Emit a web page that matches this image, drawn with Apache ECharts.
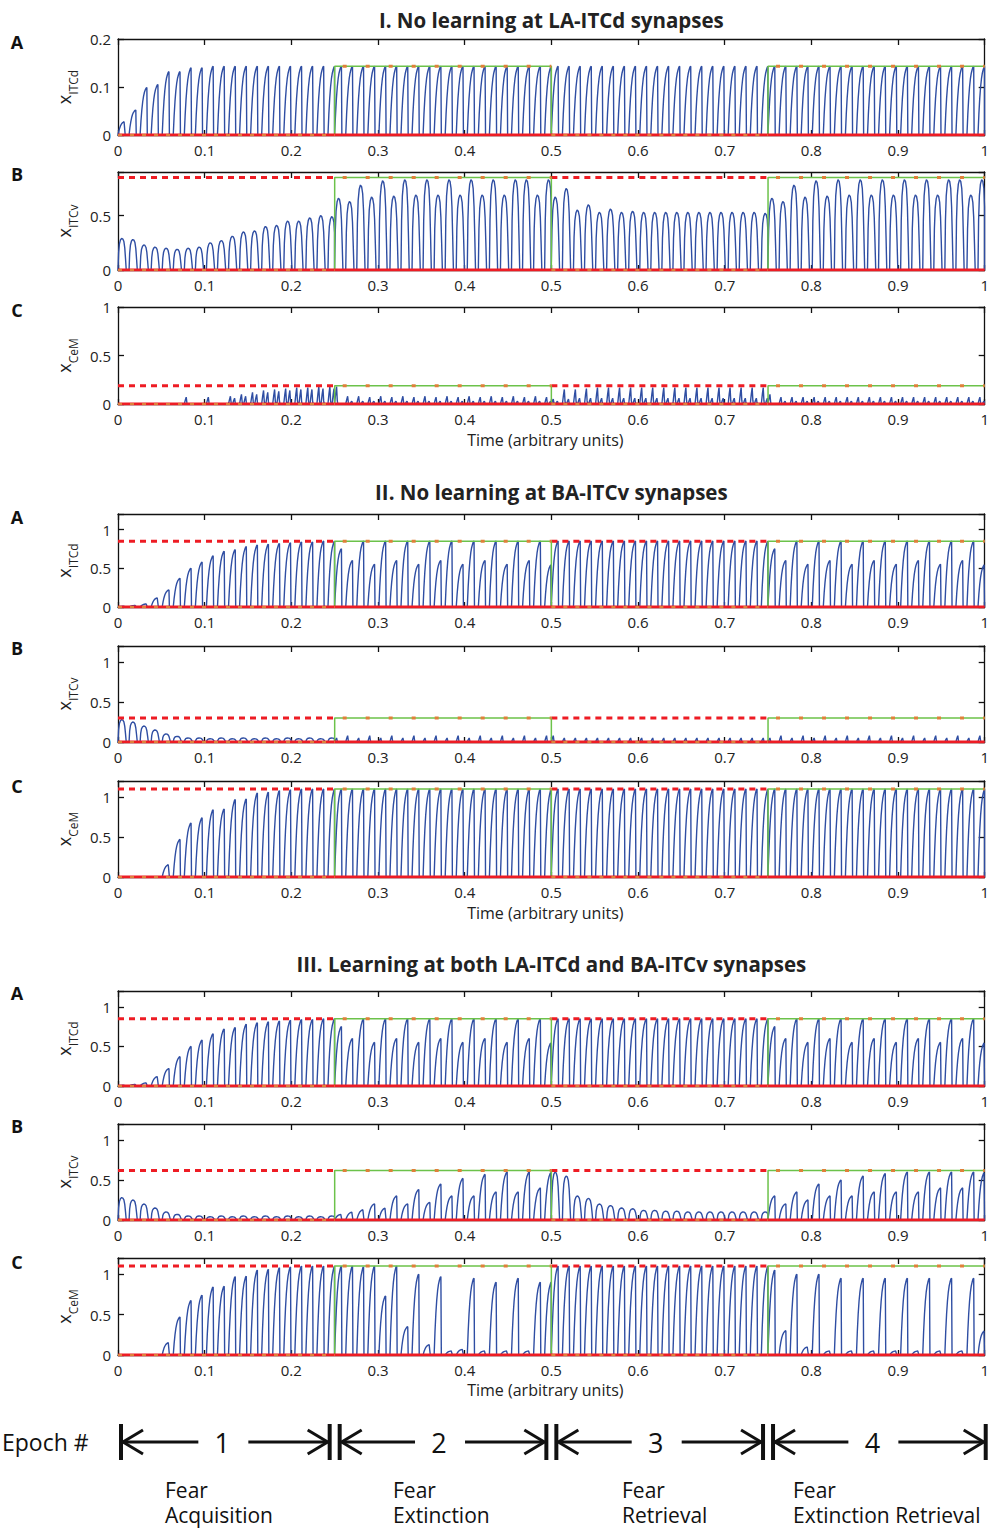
<!DOCTYPE html>
<html><head><meta charset="utf-8">
<script src="https://cdn.jsdelivr.net/npm/echarts@6/dist/echarts.min.js"></script>
<style>html,body{margin:0;padding:0;background:#fff}#c{width:992px;height:1531px}</style>
</head><body><div id="c"></div>
<script>
// ---------- data ----------
const xTickValues = [0,0.1,0.2,0.3,0.4,0.5,0.6,0.7,0.8,0.9,1];
const epochEdges = [0,0.25,0.5,0.75,1];
const epochNumbers = ['1','2','3','4'];
const epochLine1 = ['Fear','Fear','Fear','Fear'];
const epochLine2 = ['Acquisition','Extinction','Retrieval','Extinction Retrieval'];
const sectionTitles = ['I. No learning at LA-ITCd synapses','II. No learning at BA-ITCv synapses','III. Learning at both LA-ITCd and BA-ITCv synapses'];
const panelLetters = ['A','B','C'];
const yNames = ['ITCd','ITCv','CeM'];
const xTitle = 'Time (arbitrary units)';

// peak height of each of the 80 spikes (4 epochs x 20)
const IA_peaks = [0.028,0.052,0.099,0.105,0.132,0.132,0.14,0.14,0.143,0.143,0.143,0.143,0.143,0.143,0.143,0.143,0.143,0.143,0.143,0.143,
 0.143,0.143,0.143,0.143,0.143,0.143,0.143,0.143,0.143,0.143,0.143,0.143,0.143,0.143,0.143,0.143,0.143,0.143,0.143,0.143,
 0.143,0.143,0.143,0.143,0.143,0.143,0.143,0.143,0.143,0.143,0.143,0.143,0.143,0.143,0.143,0.143,0.143,0.143,0.143,0.143,
 0.143,0.143,0.143,0.143,0.143,0.143,0.143,0.143,0.143,0.143,0.143,0.143,0.143,0.143,0.143,0.143,0.143,0.143,0.143,0.143];
const IB_peaks = [0.29,0.28,0.23,0.21,0.2,0.19,0.2,0.21,0.25,0.27,0.31,0.35,0.36,0.4,0.41,0.45,0.45,0.48,0.5,0.49,
 0.66,0.63,0.78,0.67,0.82,0.68,0.83,0.69,0.83,0.69,0.83,0.69,0.83,0.69,0.83,0.69,0.83,0.83,0.69,0.83,
 0.67,0.75,0.55,0.6,0.53,0.56,0.53,0.54,0.53,0.53,0.53,0.53,0.53,0.53,0.53,0.53,0.53,0.53,0.53,0.52,
 0.66,0.63,0.78,0.67,0.82,0.68,0.83,0.69,0.83,0.69,0.83,0.69,0.83,0.69,0.83,0.69,0.83,0.83,0.69,0.83];
const IC_peaks = [0,0,0,0,0,0,0.07,0,0.07,0,0.08,0.1,0.12,0.14,0.15,0.16,0.17,0.17,0.18,0.18,
 0.18,0.08,0.08,0.07,0.08,0.07,0.08,0.07,0.08,0.07,0.08,0.07,0.08,0.07,0.08,0.07,0.08,0.07,0.08,0.07,
 0.05,0.15,0.15,0.16,0.17,0.17,0.17,0.17,0.17,0.17,0.17,0.17,0.17,0.17,0.17,0.17,0.17,0.17,0.17,0.17,
 0.1,0.07,0.07,0.07,0.07,0.07,0.07,0.07,0.07,0.07,0.07,0.07,0.07,0.07,0.07,0.07,0.07,0.07,0.07,0.07];
// second, smaller spike inside each period (panel I.C only)
const IC_second = [0,0,0,0,0,0,0,0,0,0,0.06,0.08,0.1,0.12,0.13,0.14,0.15,0.15,0.16,0.16,
 0,0.03,0.03,0.03,0.03,0.03,0.03,0.03,0.03,0.03,0.03,0.03,0.03,0.03,0.03,0.03,0.03,0.03,0.03,0.03,
 0.03,0.05,0.06,0.06,0.06,0.06,0.06,0.06,0.06,0.06,0.06,0.06,0.06,0.06,0.06,0.06,0.06,0.06,0.06,0.06,
 0,0.03,0.03,0.03,0.03,0.03,0.03,0.03,0.03,0.03,0.03,0.03,0.03,0.03,0.03,0.03,0.03,0.03,0.03,0.03];
const IIA_peaks = [0.01,0.02,0.04,0.12,0.22,0.37,0.5,0.58,0.66,0.72,0.74,0.78,0.8,0.81,0.82,0.83,0.84,0.84,0.85,0.85,
 0.75,0.6,0.85,0.55,0.85,0.6,0.85,0.55,0.85,0.6,0.85,0.55,0.85,0.6,0.85,0.55,0.85,0.6,0.85,0.55,
 0.85,0.85,0.85,0.85,0.85,0.85,0.85,0.85,0.85,0.85,0.85,0.85,0.85,0.85,0.85,0.85,0.85,0.85,0.85,0.85,
 0.75,0.6,0.85,0.55,0.85,0.6,0.85,0.55,0.85,0.6,0.85,0.55,0.85,0.6,0.85,0.55,0.85,0.6,0.85,0.55];
const IIB_peaks = [0.28,0.25,0.2,0.15,0.1,0.07,0.05,0.05,0.04,0.05,0.04,0.05,0.04,0.05,0.04,0.05,0.04,0.05,0.04,0.05,
 0.05,0.08,0.05,0.08,0.05,0.08,0.05,0.08,0.05,0.08,0.05,0.08,0.05,0.08,0.05,0.08,0.05,0.08,0.05,0.08,
 0.08,0.05,0.05,0.05,0.05,0.05,0.05,0.05,0.05,0.05,0.05,0.05,0.05,0.05,0.05,0.05,0.05,0.05,0.05,0.05,
 0.05,0.08,0.05,0.08,0.05,0.08,0.05,0.08,0.05,0.08,0.05,0.08,0.05,0.08,0.05,0.08,0.05,0.08,0.05,0.08];
const IIC_peaks = [0,0,0,0,0.155,0.47,0.675,0.74,0.84,0.85,0.97,0.975,1.05,1.06,1.08,1.09,1.1,1.1,1.1,1.1,
 1.1,1.1,1.1,1.1,1.1,1.1,1.1,1.1,1.1,1.1,1.1,1.1,1.1,1.1,1.1,1.1,1.1,1.1,1.1,1.1,
 1.1,1.1,1.1,1.1,1.1,1.1,1.1,1.1,1.1,1.1,1.1,1.1,1.1,1.1,1.1,1.1,1.1,1.1,1.1,1.1,
 1.1,1.1,1.1,1.1,1.1,1.1,1.1,1.1,1.1,1.1,1.1,1.1,1.1,1.1,1.1,1.1,1.1,1.1,1.1,1.1];
const IIIA_peaks = [0.01,0.02,0.04,0.12,0.22,0.37,0.5,0.58,0.66,0.72,0.74,0.78,0.8,0.81,0.82,0.83,0.84,0.84,0.85,0.85,
 0.75,0.6,0.85,0.55,0.85,0.6,0.85,0.55,0.85,0.6,0.85,0.55,0.85,0.6,0.85,0.55,0.85,0.6,0.85,0.55,
 0.85,0.85,0.85,0.85,0.85,0.85,0.85,0.85,0.85,0.85,0.85,0.85,0.85,0.85,0.85,0.85,0.85,0.85,0.85,0.85,
 0.75,0.6,0.85,0.55,0.85,0.6,0.85,0.55,0.85,0.6,0.85,0.55,0.85,0.6,0.85,0.55,0.85,0.6,0.85,0.55];
const IIIB_peaks = [0.28,0.25,0.2,0.15,0.1,0.07,0.05,0.05,0.04,0.05,0.04,0.05,0.04,0.05,0.04,0.05,0.04,0.05,0.04,0.05,
 0.07,0.1,0.13,0.2,0.15,0.3,0.2,0.38,0.22,0.45,0.3,0.52,0.3,0.57,0.35,0.6,0.35,0.6,0.4,0.6,
 0.6,0.55,0.3,0.27,0.2,0.18,0.15,0.14,0.12,0.12,0.11,0.11,0.1,0.1,0.1,0.1,0.1,0.1,0.1,0.1,
 0.3,0.2,0.35,0.25,0.45,0.3,0.5,0.3,0.55,0.35,0.58,0.35,0.6,0.35,0.6,0.4,0.6,0.4,0.6,0.6];
const IIIC_peaks = [0,0,0,0,0.155,0.47,0.675,0.74,0.84,0.85,0.97,0.975,1.05,1.06,1.08,1.09,1.1,1.1,1.1,1.1,
 1.1,1.1,1.09,1.1,0.73,1.1,0.35,1.0,0.13,0.97,0.05,0.07,0.95,0.05,0.9,0.05,0.95,0.05,0.9,0.9,
 1.1,1.1,1.1,1.1,1.1,1.1,1.1,1.1,1.1,1.1,1.1,1.1,1.1,1.1,1.1,1.1,1.1,1.1,1.1,1.1,
 1.05,0.3,1.0,0.1,1.0,0.05,0.95,0.05,0.95,0.05,0.95,0.05,0.95,0.05,0.95,0.05,0.95,0.05,0.95,0.3];

// stimulus (green) and threshold (red dashed) levels per panel
const greenLevels = [0.143,0.85,0.187, 0.85,0.3,1.1, 0.85,0.62,1.1];
const dashLevels  = [0.85,0.85,0.187, 0.85,0.3,1.1, 0.85,0.62,1.1];
const yMaxes = [0.2,0.9,1, 1.2,1.2,1.2, 1.2,1.2,1.2];
const yIntervals = [0.1,0.5,0.5, 0.5,0.5,0.5, 0.5,0.5,0.5];
const allPeaks = [IA_peaks,IB_peaks,IC_peaks,IIA_peaks,IIB_peaks,IIC_peaks,IIIA_peaks,IIIB_peaks,IIIC_peaks];
const allSecond = [null,null,IC_second,null,null,null,null,null,null];
// spike shape used in each epoch of each panel
const shapes = [['saw','saw','saw','saw'],['hump','hump','hump','hump'],['spike','spike','spike','spike'],
  ['saw','saw','saw','saw'],['hump','spike','spike','spike'],['saw','saw','saw','saw'],
  ['saw','saw','saw','saw'],['hump','saw','hump','saw'],['saw','saw','saw','saw']];

// ---------- layout ----------
const panelTops = [39,172,307, 514,646,781, 991,1124,1258];
const panelBottoms = [135,270,404, 607,742,877, 1086,1220,1355];
const titleY = [20,492,964];
const letterY = [[42,174,310],[517,648,786],[993,1126,1262]];
const xTitleY = [440,913,1390];
const FONT = '"Open Sans", "Noto Sans", sans-serif';

const templates = {
  saw:  [[0,0],[0.001,0.3],[0.002,0.53],[0.003,0.7],[0.004,0.82],[0.005,0.9],[0.006,0.95],[0.007,0.99],[0.0078,1],[0.0083,0]],
  hump: [[0,0],[0.0007,0.55],[0.0016,0.82],[0.0028,0.95],[0.0042,1],[0.0056,0.98],[0.0068,0.9],[0.0078,0.7],[0.0087,0.35],[0.0095,0]],
  spike:[[0,0],[0.0012,0.6],[0.0022,1],[0.003,0.2],[0.0036,0]]
};
const SECOND_OFFSET = 0.0048;
const PERIOD = 0.01275;

function buildTrace(peaks, shp, second){
  const pts = [];
  for (let e=0;e<4;e++){
    const tpl = templates[shp[e]];
    const eEnd = epochEdges[e+1] - 0.0002;
    for (let j=0;j<20;j++){
      const p = peaks[e*20+j];
      const t0 = epochEdges[e] + j*PERIOD;
      tpl.forEach(([dt,f])=>{ pts.push([Math.min(t0+dt,eEnd), p*f]); });
      if (second && second[e*20+j] > 0){
        const s = second[e*20+j];
        templates.spike.forEach(([dt,f])=>{ pts.push([Math.min(t0+SECOND_OFFSET+dt,eEnd), s*f]); });
      }
    }
  }
  pts.push([1,0]);
  return pts;
}

const grids=[], xAxes=[], yAxes=[], series=[];
const blue='#2f4ea3', green='#6cc24a', red='#ee1c24', orange='#e0803a';
const axLine={show:true,onZero:false,lineStyle:{color:'#111',width:1.3}};
for (let i=0;i<9;i++){
  grids.push({left:118, right:2, top:panelTops[i], height:panelBottoms[i]-panelTops[i], show:false});
  const yi = yIntervals[i];
  xAxes.push({type:'value', gridIndex:i, min:0, max:1, interval:0.1, position:'bottom',
    axisLine:axLine,
    axisTick:{show:true,inside:true,length:5,lineStyle:{color:'#111',width:1.3}},
    axisLabel:{show:true,fontSize:15,color:'#222',fontFamily:FONT,margin:7,
      formatter:v=>{const r=Math.round(v*10)/10; return xTickValues.indexOf(r)>=0? String(r):'';}},
    splitLine:{show:false}});
  xAxes.push({type:'value', gridIndex:i, min:0, max:1, interval:0.1, position:'top',
    axisLine:axLine,
    axisTick:{show:true,inside:true,length:6,lineStyle:{color:'#111',width:1.3}},
    axisLabel:{show:false}, splitLine:{show:false}});
  const name = '{x|x}{s|'+yNames[i%3]+'}';
  yAxes.push({type:'value', gridIndex:i, min:0, max:yMaxes[i], interval:yi, position:'left',
    name:name, nameLocation:'middle', nameGap:42, nameRotate:90,
    nameTextStyle:{rich:{x:{fontSize:18,fontFamily:FONT,color:'#222',verticalAlign:'bottom',lineHeight:20},
                         s:{fontSize:12,fontFamily:FONT,color:'#222',verticalAlign:'bottom',lineHeight:14,padding:[0,0,-6,0]}}},
    axisLine:axLine,
    axisTick:{show:true,inside:true,length:6,lineStyle:{color:'#111',width:1.3}},
    axisLabel:{fontSize:15,color:'#222',fontFamily:FONT,margin:7,
      formatter:v=>{const k=v/yi; return Math.abs(k-Math.round(k))<1e-6? String(Math.round(v*10)/10):'';}},
    splitLine:{show:false}});
  yAxes.push({type:'value', gridIndex:i, min:0, max:yMaxes[i], interval:yi, position:'right',
    axisLine:axLine,
    axisTick:{show:true,inside:true,length:6,lineStyle:{color:'#111',width:1.3}},
    axisLabel:{show:false}, splitLine:{show:false}});
  const xa=2*i, ya=2*i;
  const G=greenLevels[i], D=dashLevels[i];
  series.push({type:'line', xAxisIndex:xa, yAxisIndex:ya, data:buildTrace(allPeaks[i],shapes[i],allSecond[i]),
    showSymbol:false, lineStyle:{color:blue,width:1.4}, z:2, animation:false});
  series.push({type:'line', xAxisIndex:xa, yAxisIndex:ya,
    data:[[0,D],[0.25,D],[0.25,null],[0.5,D],[0.75,D]], connectNulls:false,
    showSymbol:false, lineStyle:{color:red,width:3,type:[6,5]}, z:3, animation:false});
  series.push({type:'line', xAxisIndex:xa, yAxisIndex:ya,
    data:[[0,0],[0.25,0],[0.25,G],[0.5,G],[0.5,0],[0.75,0],[0.75,G],[1,G]],
    showSymbol:false, lineStyle:{color:green,width:1.5}, z:4, animation:false});
  series.push({type:'line', xAxisIndex:xa, yAxisIndex:ya,
    data:[[0.25,G],[0.5,G],[0.5,null],[0.75,G],[1,G]], connectNulls:false,
    showSymbol:false, lineStyle:{color:orange,width:3,type:[4,19],dashOffset:-8}, z:5, animation:false});
  series.push({type:'line', xAxisIndex:xa, yAxisIndex:ya,
    data:[[0,0],[1,0]], showSymbol:false, lineStyle:{color:red,width:3}, z:6, animation:false});
  series.push({type:'line', xAxisIndex:xa, yAxisIndex:ya,
    data:[[0,0],[0.25,0],[0.25,null],[0.5,0],[0.75,0]], connectNulls:false,
    showSymbol:false, lineStyle:{color:orange,width:2,type:[4,8]}, z:7, animation:false});
}

const chart = echarts.init(document.getElementById('c'), null, {renderer:'svg', width:992, height:1531});
chart.setOption({animation:false, backgroundColor:'#fff', grid:grids, xAxis:xAxes, yAxis:yAxes, series:series});

// ---------- annotations ----------
const g=[];
const px = t => chart.convertToPixel({xAxisIndex:16}, t);
const cx = (px(0)+px(1))/2;
for (let s=0;s<3;s++){
  g.push({type:'text', x:cx, y:titleY[s], style:{text:sectionTitles[s], font:'bold 20.5px '+FONT, fill:'#222', textAlign:'center', textVerticalAlign:'middle'}});
  for (let k=0;k<3;k++){
    g.push({type:'text', x:17, y:letterY[s][k], style:{text:panelLetters[k], font:'bold 18px '+FONT, fill:'#111', textAlign:'center', textVerticalAlign:'middle'}});
  }
  g.push({type:'text', x:cx-6, y:xTitleY[s], style:{text:xTitle, font:'16px '+FONT, fill:'#222', textAlign:'center', textVerticalAlign:'middle'}});
}
const ey=1442, lw=3;
g.push({type:'text', x:2, y:ey, style:{text:'Epoch #', font:'23px '+FONT, fill:'#111', textAlign:'left', textVerticalAlign:'middle'}});
const descX=[165,393,622,793];
for (let k=0;k<4;k++){
  const s=px(epochEdges[k]), e=px(epochEdges[k+1]);
  const lb = s + (k===0?3:5), rb = e - (k===3?-1:5);
  const c=(s+e)/2 - 4;
  const lineSt={stroke:'#111', lineWidth:lw};
  g.push({type:'line', shape:{x1:lb,y1:ey-18,x2:lb,y2:ey+18}, style:{stroke:'#111',lineWidth:4}});
  g.push({type:'line', shape:{x1:rb,y1:ey-18,x2:rb,y2:ey+18}, style:{stroke:'#111',lineWidth:4}});
  g.push({type:'polyline', shape:{points:[[lb+22,ey-12],[lb+2,ey],[lb+22,ey+12]]}, style:{stroke:'#111',lineWidth:lw,fill:null}});
  g.push({type:'polyline', shape:{points:[[rb-22,ey-12],[rb-2,ey],[rb-22,ey+12]]}, style:{stroke:'#111',lineWidth:lw,fill:null}});
  g.push({type:'line', shape:{x1:lb+2,y1:ey,x2:c-24,y2:ey}, style:lineSt});
  g.push({type:'line', shape:{x1:c+26,y1:ey,x2:rb-2,y2:ey}, style:lineSt});
  g.push({type:'text', x:c, y:ey, style:{text:epochNumbers[k], font:'27px '+FONT, fill:'#111', textAlign:'center', textVerticalAlign:'middle'}});
  g.push({type:'text', x:descX[k], y:1490, style:{text:epochLine1[k], font:'21px '+FONT, fill:'#111', textAlign:'left', textVerticalAlign:'middle'}});
  g.push({type:'text', x:descX[k], y:1515, style:{text:epochLine2[k], font:'21px '+FONT, fill:'#111', textAlign:'left', textVerticalAlign:'middle'}});
}
chart.setOption({graphic:{elements:g}});
</script>
</body></html>
